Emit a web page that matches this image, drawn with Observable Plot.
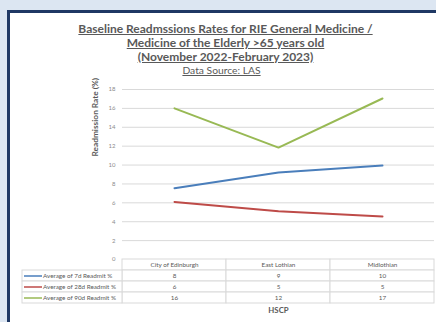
<!DOCTYPE html>
<html><head><meta charset="utf-8">
<script src="https://cdn.jsdelivr.net/npm/d3@7"></script>
<script src="https://cdn.jsdelivr.net/npm/@observablehq/plot@0.6"></script>
<style>
html,body{margin:0;padding:0}
body{width:436px;height:322px;overflow:hidden;background:#dce6f2;font-family:Lato,"Open Sans",sans-serif;position:relative}
#panel{position:absolute;left:7px;top:10px;width:470px;height:340px;background:#fff;border-left:3px solid #1f3864;border-top:3px solid #1f3864;box-sizing:border-box}
#title{position:absolute;left:0;width:451px;top:22px;text-align:center;color:#595959;font-weight:bold;font-size:12px;line-height:14px}
#title span{text-decoration:underline}
#source{position:absolute;left:0;width:443px;top:64px;text-align:center;color:#595959;font-size:10.3px;line-height:13px;text-decoration:underline}
#main{position:absolute;left:0;top:0}
#table{position:absolute;left:0;top:259px}
</style></head>
<body>
<div id="panel"></div>
<div id="title"><span>Baseline Readmssions Rates for RIE General Medicine /</span><br><span>Medicine of the Elderly &gt;65 years old</span><br><span>(November 2022-February 2023)</span></div>
<div id="source">Data Source: LAS</div>
<div id="main"></div>
<div id="table"></div>
<script>
const hscp = ["City of Edinburgh", "East Lothian", "Midlothian"];
const seriesNames = ["Average of 7d Readmit %", "Average of 28d Readmit %", "Average of 90d Readmit %"];
const readmit7d = [7.55, 9.2, 9.95];
const readmit28d = [6.1, 5.1, 4.55];
const readmit90d = [16.0, 11.85, 17.05];
const seriesColors = ["#4a7ebb", "#be4b48", "#98b954"];
const yTicks = [0, 2, 4, 6, 8, 10, 12, 14, 16, 18];
const yLabel = "Readmission Rate (%)";
const xLabel = "HSCP";

const valuesBySeries = [readmit7d, readmit28d, readmit90d];
const long = [];
seriesNames.forEach((s, i) => hscp.forEach((h, j) => long.push({series: s, hscp: h, value: valuesBySeries[i][j]})));

const font = "Lato, 'Open Sans', sans-serif";

const main = Plot.plot({
  width: 436, height: 265,
  marginTop: 89, marginBottom: 6, marginLeft: 122, marginRight: 2,
  style: {background: "transparent", fontSize: "6px", fontFamily: font, color: "#8c8c8c", overflow: "visible"},
  x: {type: "point", domain: hscp, padding: 0.5, axis: null},
  y: {domain: [0, 18], ticks: yTicks, tickSize: 0, tickPadding: 7, label: null},
  color: {domain: seriesNames, range: seriesColors},
  marks: [
    Plot.ruleY(yTicks.filter(d => d > 0), {stroke: "#d9d9d9", strokeWidth: 1}),
    Plot.line(long, {x: "hscp", y: "value", z: "series", stroke: "series", strokeWidth: 2}),
    Plot.text([yLabel], {frameAnchor: "left", dx: -27, dy: -18, rotate: -90, text: d => d, fill: "#595959", fontWeight: "bold", fontSize: 8.3})
  ]
});
document.getElementById("main").appendChild(main);

const rowKeys = ["header", ...seriesNames];
const table = Plot.plot({
  width: 436, height: 63,
  marginTop: 0, marginBottom: 18.5, marginLeft: 122, marginRight: 2,
  style: {background: "transparent", fontSize: "6.3px", fontFamily: font, color: "#595959", overflow: "visible"},
  x: {type: "band", domain: hscp, padding: 0, axis: null},
  y: {type: "band", domain: rowKeys, padding: 0, axis: null},
  color: {domain: seriesNames, range: seriesColors},
  marks: [
    Plot.cell(rowKeys.flatMap(r => hscp.map(h => ({row: r, hscp: h}))), {x: "hscp", y: "row", fill: "white", stroke: "#d9d9d9", inset: 0}),
    Plot.cell(seriesNames, {x: () => hscp[0], y: d => d, fill: "white", stroke: "#d9d9d9", insetLeft: -100, insetRight: 104, insetTop: 0, insetBottom: 0}),
    Plot.ruleY(seriesNames, {y: d => d, stroke: d => d, strokeWidth: 1.5, insetLeft: -98, insetRight: 392}),
    Plot.text(seriesNames, {y: d => d, frameAnchor: "left", dx: -79.5, textAnchor: "start", text: d => d, fill: "#595959"}),
    Plot.text(hscp, {x: d => d, y: () => "header", text: d => d, fill: "#595959"}),
    Plot.text(long, {x: "hscp", y: "series", text: d => d3.format(".0f")(d.value), fill: "#595959"}),
    Plot.text([xLabel], {frameAnchor: "bottom", dy: 8.5, text: d => d, fill: "#595959", fontWeight: "bold", fontSize: 7.8})
  ]
});
document.getElementById("table").appendChild(table);
</script>
</body></html>
